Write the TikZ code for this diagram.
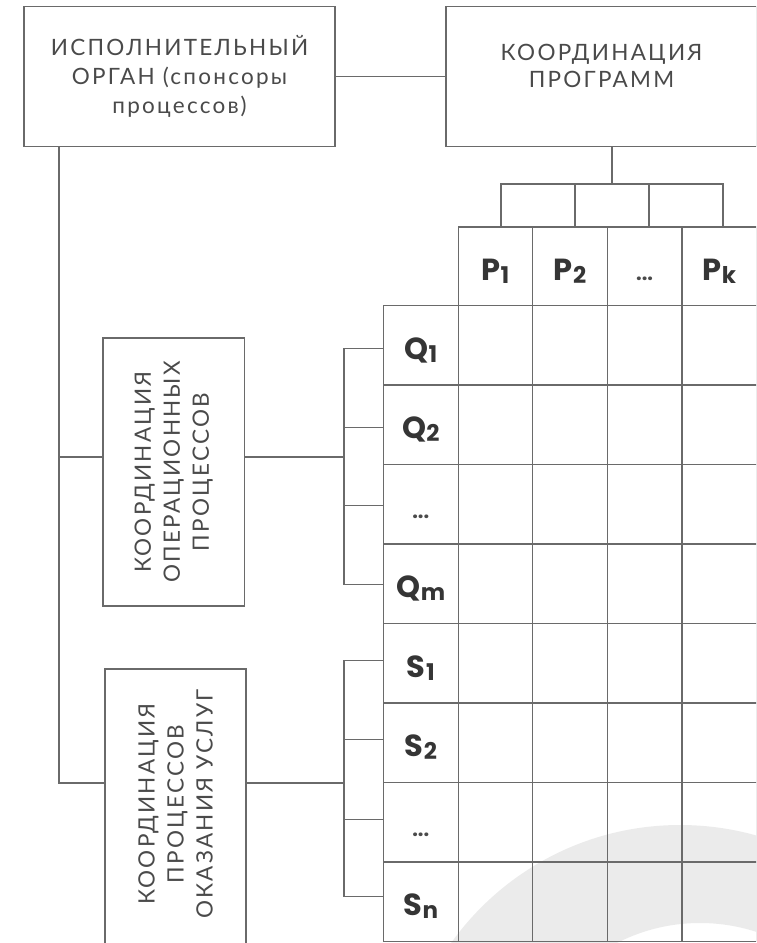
\documentclass[tikz,border=0pt]{standalone}
\usepackage{fontspec}
\setmainfont{Lato}
\newfontfamily\capfont{Lato}[LetterSpace=10]
\newfontfamily\labfont{Poppins}
\definecolor{linegrey}{HTML}{6A6A6A}
\definecolor{textgrey}{HTML}{4A4A4A}
\definecolor{labgrey}{HTML}{353535}
\definecolor{arcgrey}{HTML}{EBEBEB}
% bold cell label with a lowered index
\newcommand\sublab[2]{#1\kern0.3pt\raisebox{-3pt}{\fontsize{23}{23}\selectfont #2}}
\newcommand\celldots{{\fontsize{20}{20}\selectfont\color{textgrey}...}}

\begin{document}
\begin{tikzpicture}[x=1pt,y=-1pt,
  every node/.style={inner sep=0pt, outer sep=0pt},
  frame/.style={draw=linegrey, line width=1.2pt},
  caption/.style={font=\capfont\fontsize{22.5}{29}\selectfont, text=textgrey, align=center},
  cell/.style={frame, minimum width=74.6pt, minimum height=79.5pt,
    text height=28pt, text depth=0pt,
    font=\labfont\bfseries\fontsize{30.5}{30.5}\selectfont, text=labgrey},
  headcell/.style={cell, minimum height=78.5pt},
  tab/.style={frame, minimum width=74pt, minimum height=43pt}]

\useasboundingbox (0,0) rectangle (756,943);
\clip (0,0) rectangle (756,943);

% light background swash
\fill[arcgrey, even odd rule] (680,1106) circle[radius=281pt] (700,1105) circle[radius=182pt];

% top boxes
\node[frame, caption, minimum width=311pt, minimum height=139.5pt] (exec) at (179.5,76.5)
  {ИСПОЛНИТЕЛЬНЫЙ\\ОРГАН (спонсоры\\процессов)};
\node[frame, minimum width=311pt, minimum height=139.5pt] (prog) at (601.5,76.5) {};
\node[caption, font=\capfont\fontsize{22.5}{27}\selectfont] (progtext) at (601.5,66)
  {КООРДИНАЦИЯ\\ПРОГРАММ};
\draw[frame] (exec) -- (prog);

% program tabs
\node[tab] (b1) at (538,205.5) {};
\node[tab] (b2) at (612,205.5) {};
\node[tab] (b3) at (686,205.5) {};
\draw[frame] (prog.south -| b2.north) -- (b2.north);

% header row
\foreach \lab [count=\i] in {{\sublab{P}{1}},{\sublab{P}{2}},{\celldots},{\sublab{P}{k}}}
  \node[headcell] (h\i) at ({458.1+74.6*(\i-0.5)},266.25) {\lab};

% row labels and matrix cells
\foreach \lab [count=\j] in {{\sublab{Q}{1}},{\sublab{Q}{2}},{\celldots},{\sublab{Q}{m}},
                            {\sublab{S}{1}},{\sublab{S}{2}},{\celldots},{\sublab{S}{n}}}{
  \node[cell] (r\j) at (420.8,{345.25+79.5*(\j-1)}) {\lab};
  \foreach \i in {1,...,4}
    \node[cell] (c\j-\i) at ({458.1+74.6*(\i-0.5)},{345.25+79.5*(\j-1)}) {};
}

% side boxes
\node[frame, minimum width=141.5pt, minimum height=268pt] (ops) at (173.75,472) {};
\node[caption, rotate=90] (opstext) at (ops.center)
  {КООРДИНАЦИЯ\\ОПЕРАЦИОННЫХ\\ПРОЦЕССОВ};
\node[frame, minimum width=141pt, minimum height=321pt] (svc) at (175.5,829.5) {};
\node[caption, rotate=90] (svctext) at (175.5,804)
  {КООРДИНАЦИЯ\\ПРОЦЕССОВ\\ОКАЗАНИЯ\hspace{8pt}УСЛУГ};

% connector trunk and joins
\coordinate (trunk) at ([xshift=35pt]exec.south west);
\coordinate (opsy) at (0,457);
\coordinate (svcy) at (0,783);
\coordinate (bus) at (344,0);
\draw[frame] (trunk) |- (svc.west |- svcy);
\draw[frame] (ops.west |- opsy) -- (trunk |- opsy);
\draw[frame] (ops.east |- opsy) -- (bus |- opsy);
\draw[frame] (svc.east |- svcy) -- (bus |- svcy);

% bracket onto the Q rows
\coordinate (q1) at ([yshift=-3.5pt]r1.west);
\coordinate (q2) at ([yshift=-2.5pt]r2.west);
\coordinate (q3) at ([yshift=-1.5pt]r3.west);
\coordinate (q4) at ([yshift=-0.5pt]r4.west);
\draw[frame] (q1) -| (bus |- q4) -- (q4);
\draw[frame] (q2) -- (bus |- q2);
\draw[frame] (q3) -- (bus |- q3);

% bracket onto the S rows
\coordinate (s1) at ([yshift=2.5pt]r5.west);
\coordinate (s2) at ([yshift=3pt]r6.west);
\coordinate (s3) at ([yshift=3pt]r7.west);
\coordinate (s4) at ([yshift=5pt]r8.west);
\draw[frame] (s1) -| (bus |- s4) -- (s4);
\draw[frame] (s2) -- (bus |- s2);
\draw[frame] (s3) -- (bus |- s3);
\end{tikzpicture}
\end{document}
